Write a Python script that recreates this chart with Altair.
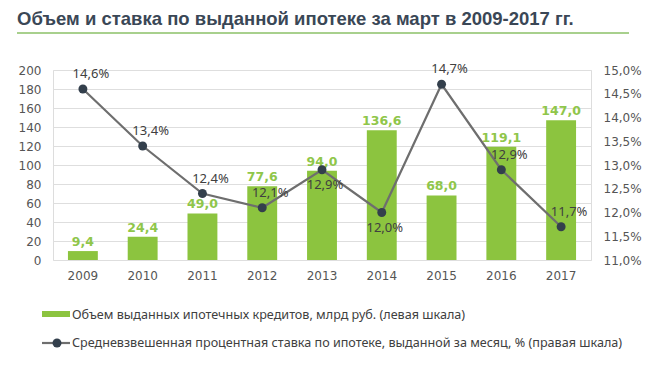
import altair as alt
import pandas as pd

# ---- data ----
years = ["2009", "2010", "2011", "2012", "2013", "2014", "2015", "2016", "2017"]
volume = [9.4, 24.4, 49.0, 77.6, 94.0, 136.6, 68.0, 119.1, 147.0]
rate = [14.6, 13.4, 12.4, 12.1, 12.9, 12.0, 14.7, 12.9, 11.7]
rate_label_side = ["above", "above", "above", "above", "below", "below", "above", "above", "above"]

title_text = "Объем и ставка по выданной ипотеке за  март в  2009-2017 гг."
legend_bar = "Объем выданных ипотечных кредитов, млрд руб. (левая шкала)"
legend_line = "Средневзвешенная процентная ставка по ипотеке, выданной за месяц, % (правая шкала)"

# ---- styles ----
GREEN = "#8cc43f"
LABEL_GREEN = "#8fc64a"
LINE_GREY = "#6e6e6e"
DOT = "#333f4c"
TEXT = "#404040"
AXIS_TEXT = "#555555"
FONT = "DejaVu Sans"
FONT2 = "Noto Sans"

df = pd.DataFrame({
    "year": years,
    "volume": volume,
    "rate": rate,
    "side": rate_label_side,
})
df["vol_label"] = [f"{v:.1f}".replace(".", ",") for v in volume]
df["rate_label"] = [f"{v:.1f}".replace(".", ",") + "%" for v in rate]

W, H = 538, 190

x = alt.X("year:N", title=None,
          scale=alt.Scale(paddingInner=0.5, paddingOuter=0.25),
          axis=alt.Axis(labelAngle=0, ticks=False, domain=False, labelPadding=10,
                        labelFont=FONT, labelFontSize=12, labelColor=AXIS_TEXT))

y_left = alt.Y("volume:Q", title=None,
               scale=alt.Scale(domain=[0, 200], nice=False),
               axis=alt.Axis(orient="left", values=list(range(0, 201, 20)), ticks=False,
                             domain=False, labelPadding=12, labelFont=FONT, labelFontSize=12,
                             labelColor=AXIS_TEXT, gridColor="#dedede", gridWidth=1))

y_right = alt.Y("rate:Q", title=None,
                scale=alt.Scale(domain=[11, 15], nice=False, zero=False),
                axis=alt.Axis(orient="right", values=[11, 11.5, 12, 12.5, 13, 13.5, 14, 14.5, 15],
                              labelExpr="replace(format(datum.value, '.1f'), '.', ',') + '%'",
                              ticks=False, domain=False, grid=False, labelPadding=12,
                              labelFont=FONT, labelFontSize=12, labelColor=AXIS_TEXT))

base = alt.Chart(df)

bars = base.mark_bar(color=GREEN).encode(x=x, y=y_left)
bar_labels = base.mark_text(font=FONT, fontSize=12.5, fontWeight="bold", color=LABEL_GREEN,
                            baseline="alphabetic", dy=-5).encode(x=x, y=y_left, text="vol_label:N")

line = base.mark_line(color=LINE_GREY, strokeWidth=2.2).encode(x=x, y=y_right)
dots = base.mark_point(filled=True, color=DOT, size=80, opacity=1).encode(x=x, y=y_right)
lab_above = base.transform_filter(alt.datum.side == "above").mark_text(
    font=FONT2, fontSize=13, color=TEXT, dx=8, dy=-15).encode(x=x, y=y_right, text="rate_label:N")
lab_below = base.transform_filter(alt.datum.side == "below").mark_text(
    font=FONT2, fontSize=13, color=TEXT, dx=3, dy=15).encode(x=x, y=y_right, text="rate_label:N")

left_part = alt.layer(bars, bar_labels)
right_part = alt.layer(line, dots, lab_above, lab_below)

one = pd.DataFrame({"title": [title_text], "lb": [legend_bar], "ll": [legend_line]})
dec = alt.Chart(one)
title_mark = dec.mark_text(font="Liberation Sans", fontSize=18.5, fontWeight="bold", color="#3a4756",
                           align="left", baseline="alphabetic").encode(
    x=alt.value(-36), y=alt.value(-45), text="title:N")
underline = dec.mark_rule(color="#a8d08d", strokeWidth=2).encode(
    x=alt.value(-36), x2=alt.value(576), y=alt.value(-37))
leg_rect = dec.mark_rect(color=GREEN).encode(
    x=alt.value(-11), x2=alt.value(17), y=alt.value(241), y2=alt.value(247))
leg_text1 = dec.mark_text(font=FONT2, fontSize=12.6, color=TEXT, align="left", baseline="middle").encode(
    x=alt.value(19), y=alt.value(245), text="lb:N")
leg_line = dec.mark_rule(color=LINE_GREY, strokeWidth=2.2).encode(
    x=alt.value(-11), x2=alt.value(17), y=alt.value(273))
leg_dot = dec.mark_point(filled=True, color=DOT, size=80, opacity=1).encode(
    x=alt.value(4), y=alt.value(273))
leg_text2 = dec.mark_text(font=FONT2, fontSize=12.6, color=TEXT, align="left", baseline="middle").encode(
    x=alt.value(19), y=alt.value(273), text="ll:N")

chart = alt.layer(
    left_part, right_part,
    title_mark, underline, leg_rect, leg_text1, leg_line, leg_dot, leg_text2,
).resolve_scale(y="independent").properties(
    width=W, height=H,
    autosize=alt.AutoSizeParams(type="none"),
    padding={"left": 45, "top": 62, "right": 68, "bottom": 100},
).configure_view(stroke=None).configure(background="white")

chart.save("out.html", embed_options={"renderer": "svg", "actions": False})
